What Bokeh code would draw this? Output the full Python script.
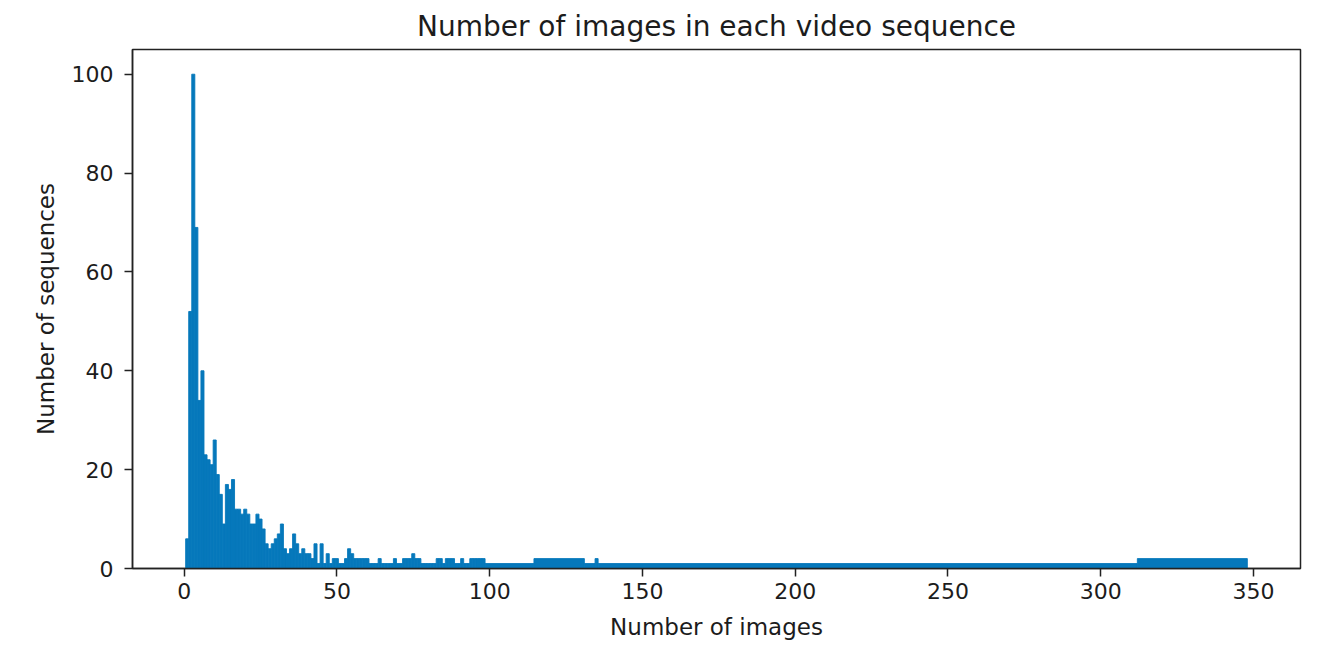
from bokeh.plotting import figure
from bokeh.models import Range1d, FixedTicker, ColumnDataSource
from bokeh.embed import file_html
from bokeh.resources import INLINE

# Histogram data
# unit-width bins centred on each image count 1..98
unit_values = list(range(1, 99))
unit_counts = [6, 52, 100, 69, 34, 40, 23, 22, 21, 26,
               19, 15, 9, 17, 16, 18, 12, 12, 11, 12,
               11, 9, 9, 11, 10, 8, 5, 4, 5, 6,
               7, 9, 4, 3, 4, 7, 5, 3, 4, 3,
               3, 2, 5, 1, 5, 1, 3, 1, 2, 2,
               1, 1, 2, 4, 3, 2, 2, 2, 2, 2,
               1, 1, 1, 2, 1, 1, 1, 1, 2, 1,
               1, 2, 2, 2, 3, 2, 2, 1, 1, 1,
               1, 1, 2, 2, 1, 2, 2, 2, 1, 1,
               2, 1, 1, 2, 2, 2, 2, 2]
# wider bins in the sparse tail
tail_left = [98.5, 114.5, 131.0, 134.5, 135.5, 312.0]
tail_right = [114.5, 131.0, 134.5, 135.5, 312.0, 348.0]
tail_counts = [1, 2, 1, 2, 1, 2]

x_ticks = [0, 50, 100, 150, 200, 250, 300, 350]
y_ticks = [0, 20, 40, 60, 80, 100]

title_text = "Number of images in each video sequence"
x_label = "Number of images"
y_label = "Number of sequences"

lefts = [v - 0.5 for v in unit_values] + tail_left
rights = [v + 0.5 for v in unit_values] + tail_right
tops = unit_counts + tail_counts
src = ColumnDataSource(dict(left=lefts, right=rights, top=tops, bottom=[0] * len(tops)))

FONT = "DejaVu Sans"
TXT = "#1c1c1c"
BAR = "#0678bb"

p = figure(frame_width=1168, frame_height=519,
           min_border_left=132, min_border_right=20,
           min_border_top=49, min_border_bottom=72,
           output_backend="svg", toolbar_location=None,
           x_range=Range1d(-16.9, 365.4), y_range=Range1d(0, 105),
           title=title_text)

p.quad(left="left", right="right", top="top", bottom="bottom", source=src,
       fill_color=BAR, line_color=BAR, line_width=0.9)

p.background_fill_color = "white"
p.border_fill_color = "white"
p.outline_line_color = "#222222"
p.outline_line_width = 1.5
p.xgrid.grid_line_color = None
p.ygrid.grid_line_color = None

p.title.align = "center"
p.title.text_font = FONT
p.title.text_font_size = "28px"
p.title.text_font_style = "normal"
p.title.text_color = TXT
p.title.standoff = 14

for ax in (p.xaxis[0], p.yaxis[0]):
    ax.axis_line_color = "#222222"
    ax.axis_line_width = 1.5
    ax.major_tick_line_color = "#222222"
    ax.major_tick_line_width = 1.5
    ax.major_tick_in = 0
    ax.major_tick_out = 8
    ax.minor_tick_line_color = None
    ax.major_label_text_font = FONT
    ax.major_label_text_font_size = "22px"
    ax.major_label_text_color = TXT
    ax.axis_label_text_font = FONT
    ax.axis_label_text_font_size = "23px"
    ax.axis_label_text_font_style = "normal"
    ax.axis_label_text_color = TXT

p.xaxis[0].ticker = FixedTicker(ticks=x_ticks)
p.yaxis[0].ticker = FixedTicker(ticks=y_ticks)
p.xaxis[0].axis_label = x_label
p.yaxis[0].axis_label = y_label
p.xaxis[0].major_label_standoff = 6
p.xaxis[0].axis_label_standoff = 12
p.yaxis[0].major_label_standoff = 11
p.yaxis[0].axis_label_standoff = 10

open("out.html", "w").write(file_html(p, INLINE))
